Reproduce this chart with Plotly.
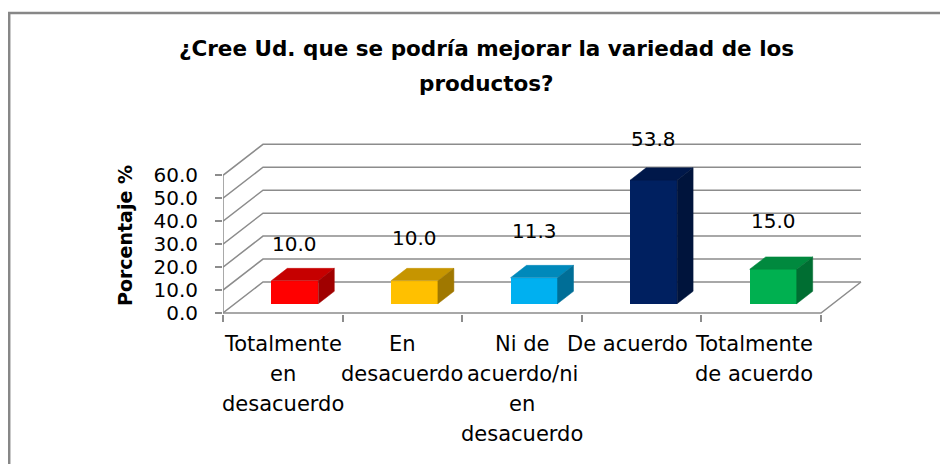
import plotly.graph_objects as go

# ---------------- data ----------------
categories = ["Totalmente<br>en<br>desacuerdo", "En<br>desacuerdo",
              "Ni de<br>acuerdo/ni<br>en<br>desacuerdo", "De acuerdo",
              "Totalmente<br>de acuerdo"]
porcentajes = [10.0, 10.0, 11.3, 53.8, 15.0]
y_ticks = [0, 10, 20, 30, 40, 50, 60]
y_tick_labels = ["0.0", "10.0", "20.0", "30.0", "40.0", "50.0", "60.0"]
title_lines = ["¿Cree Ud. que se podría mejorar la variedad de los", "productos?"]
y_title = "Porcentaje %"
front_colors = ["#FF0000", "#FFC000", "#00B0F0", "#002060", "#00B050"]

# ---------------- layout geometry (page pixels) ----------------
OFF = 8                                   # page body margin
W, H = 948 - 2 * OFF, 472 - 2 * OFF
L, R, T, B = 223 - OFF, 880 - OFF, 130 - OFF, 314 - OFF
Y0 = 313 - OFF
PX_PER_CAT = 119.6
PX_PER_UNIT = 2.295
ddx = 40 / PX_PER_CAT          # depth offset (category units)
ddy = 31 / PX_PER_UNIT         # depth offset (value units)
f0, f1 = 0.3, 0.7              # bar depth span
bar_w = 47 / PX_PER_CAT
label_lift = [37, 43, 47, 41, 48]                # px above bar top
cat_label_dx = [0, 0, 0, -14, -7]                # px shift of category labels
FONT = "DejaVu Sans"
GRID = "#8C8C8C"

xr = [-0.5, -0.5 + (R - L) / PX_PER_CAT]
yr = [-(B - Y0) / PX_PER_UNIT, (Y0 - T) / PX_PER_UNIT]


def pxx(px):
    return (px - OFF - L) / (R - L)


def pxy(py):
    return (B - (py - OFF)) / (B - T)


def shade(hexc, k):
    h = hexc.lstrip("#")
    r, g, b = (int(h[i:i + 2], 16) for i in (0, 2, 4))
    return "#%02X%02X%02X" % (int(r * k), int(g * k), int(b * k))


n = len(categories)
fig = go.Figure()

# front faces as real bars
fig.add_trace(go.Bar(
    x=[i + f0 * ddx for i in range(n)], y=porcentajes, base=f0 * ddy,
    width=bar_w, marker=dict(color=front_colors, line=dict(width=0)),
    hoverinfo="skip", showlegend=False))

# top and side faces
for i, (v, c) in enumerate(zip(porcentajes, front_colors)):
    xl = i - bar_w / 2
    xrr = i + bar_w / 2
    top_x = [xl + f0 * ddx, xrr + f0 * ddx, xrr + f1 * ddx, xl + f1 * ddx, xl + f0 * ddx]
    top_y = [v + f0 * ddy, v + f0 * ddy, v + f1 * ddy, v + f1 * ddy, v + f0 * ddy]
    fig.add_trace(go.Scatter(x=top_x, y=top_y, fill="toself", mode="lines",
                             line=dict(width=0.5, color=shade(c, 0.78)),
                             fillcolor=shade(c, 0.78), hoverinfo="skip", showlegend=False))
    side_x = [xrr + f0 * ddx, xrr + f1 * ddx, xrr + f1 * ddx, xrr + f0 * ddx, xrr + f0 * ddx]
    side_y = [f0 * ddy, f1 * ddy, v + f1 * ddy, v + f0 * ddy, f0 * ddy]
    fig.add_trace(go.Scatter(x=side_x, y=side_y, fill="toself", mode="lines",
                             line=dict(width=0.5, color=shade(c, 0.63)),
                             fillcolor=shade(c, 0.63), hoverinfo="skip", showlegend=False))

shapes = []
for v in y_ticks:
    path = "M %f,%f L %f,%f L %f,%f" % (-0.5, v, -0.5 + ddx, v + ddy, n - 0.5 + ddx, v + ddy)
    shapes.append(dict(type="path", path=path, xref="x", yref="y", layer="below",
                       line=dict(color=GRID, width=1.5)))
shapes.append(dict(type="path",
                   path="M %f,0 L %f,0 L %f,%f" % (-0.5, n - 0.5, n - 0.5 + ddx, ddy),
                   xref="x", yref="y", layer="below", line=dict(color=GRID, width=1.5)))
shapes.append(dict(type="line", x0=-0.5, x1=-0.5, y0=0, y1=max(y_ticks), xref="x", yref="y",
                   layer="below", line=dict(color=GRID, width=1.5)))
shapes.append(dict(type="rect", xref="paper", yref="paper",
                   x0=pxx(9.2), x1=pxx(990), y0=pxy(13), y1=pxy(520),
                   line=dict(color="#878787", width=2.5), fillcolor="rgba(0,0,0,0)"))

ann = []
for i, v in enumerate(porcentajes):
    ann.append(dict(x=i + f0 * ddx, y=v + f0 * ddy, xref="x", yref="y",
                    yshift=label_lift[i],
                    text="%.1f" % v, showarrow=False, yanchor="middle",
                    font=dict(family=FONT, size=20, color="#000000")))
for i, cat in enumerate(categories):
    for k, line in enumerate(cat.split("<br>")):
        ann.append(dict(x=i, xref="x", xshift=cat_label_dx[i],
                        y=pxy(344 + 30 * k), yref="paper",
                        text=line, showarrow=False, xanchor="center", yanchor="middle",
                        font=dict(family=FONT, size=21, color="#000000")))
for k, line in enumerate(title_lines):
    ann.append(dict(x=pxx(486), y=pxy(49 + 34 * k), xref="paper", yref="paper", text="<b>%s</b>" % line,
                    showarrow=False, xanchor="center", yanchor="middle",
                    font=dict(family=FONT, size=21.5, color="#000000")))
ann.append(dict(x=pxx(125), y=pxy(236), xref="paper", yref="paper", text="<b>%s</b>" % y_title,
                textangle=-90, showarrow=False, xanchor="center", yanchor="middle",
                font=dict(family=FONT, size=19, color="#000000")))

fig.update_layout(
    width=W, height=H,
    margin=dict(l=L, r=W - R, t=T, b=H - B, pad=0),
    paper_bgcolor="white", plot_bgcolor="rgba(0,0,0,0)",
    showlegend=False, bargap=0,
    shapes=shapes, annotations=ann,
    xaxis=dict(range=xr, tickvals=[i - 0.5 for i in range(n + 1)], ticks="outside",
               ticklen=7, tickwidth=1.5, tickcolor=GRID, showticklabels=False,
               showgrid=False, zeroline=False, showline=False, fixedrange=True),
    yaxis=dict(range=yr, tickvals=y_ticks, ticktext=y_tick_labels, ticks="outside",
               ticklen=7, tickwidth=1.5, tickcolor=GRID, showgrid=False, zeroline=False,
               showline=False, ticklabelstandoff=13,
               tickfont=dict(family=FONT, size=20, color="#000000"),
               fixedrange=True),
)

fig.write_html("out.html")
